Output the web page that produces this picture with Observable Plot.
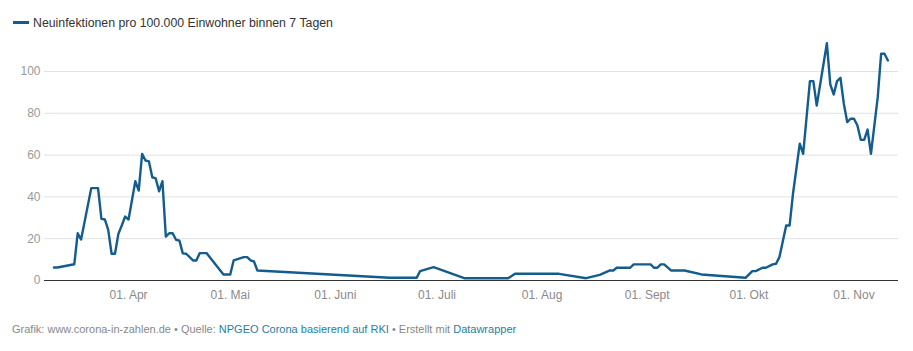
<!DOCTYPE html>
<html>
<head>
<meta charset="utf-8">
<script src="https://cdn.jsdelivr.net/npm/d3@7"></script>
<script src="https://cdn.jsdelivr.net/npm/@observablehq/plot@0.6"></script>
<style>
  html, body { margin: 0; padding: 0; background: #fff; }
  body { width: 913px; height: 351px; overflow: hidden; font-family: "Liberation Sans", Arial, sans-serif; }
  #legend { height: 34px; box-sizing: border-box; padding-top: 11px; padding-left: 13px; font-size: 12.3px; line-height: 16px; color: #333; display: flex; align-items: center; align-self: flex-start; }
  #legend .sw { display: inline-block; width: 16px; height: 3px; background: #135c8e; margin-right: 4px; }
  #chart svg { display: block; }
  #caption { padding-left: 12px; padding-top: 13px; font-size: 11px; line-height: 14px; color: #888; }
  #caption a { color: #1d81a2; text-decoration: none; }
</style>
</head>
<body>
<div id="legend"><span class="sw"></span><span>Neuinfektionen pro 100.000 Einwohner binnen 7 Tagen</span></div>
<div id="chart"></div>
<div id="caption">Grafik: www.corona-in-zahlen.de • Quelle: <a>NPGEO Corona basierend auf RKI</a> • Erstellt mit <a>Datawrapper</a></div>
<script>
const dates = [
  "2020-03-10","2020-03-11","2020-03-16","2020-03-17","2020-03-18","2020-03-21","2020-03-23","2020-03-24",
  "2020-03-25","2020-03-26","2020-03-27","2020-03-28","2020-03-29","2020-03-30","2020-03-31","2020-04-01",
  "2020-04-03","2020-04-04","2020-04-05","2020-04-06","2020-04-07","2020-04-08","2020-04-09","2020-04-10",
  "2020-04-11","2020-04-12","2020-04-13","2020-04-14","2020-04-15","2020-04-16","2020-04-17","2020-04-18",
  "2020-04-20","2020-04-21","2020-04-22","2020-04-24","2020-04-29","2020-05-01","2020-05-02","2020-05-05",
  "2020-05-06","2020-05-07","2020-05-08","2020-05-09","2020-06-17","2020-06-25","2020-06-26","2020-06-30",
  "2020-07-09","2020-07-22","2020-07-24","2020-08-06","2020-08-14","2020-08-18","2020-08-21","2020-08-22",
  "2020-08-23","2020-08-27","2020-08-28","2020-09-02","2020-09-03","2020-09-04","2020-09-05","2020-09-06",
  "2020-09-08","2020-09-12","2020-09-17","2020-09-30","2020-10-02","2020-10-03","2020-10-05","2020-10-06",
  "2020-10-08","2020-10-09","2020-10-10","2020-10-12","2020-10-13","2020-10-14","2020-10-16","2020-10-17",
  "2020-10-19","2020-10-20","2020-10-21","2020-10-24","2020-10-25","2020-10-26","2020-10-27","2020-10-28",
  "2020-10-29","2020-10-30","2020-10-31","2020-11-01","2020-11-02","2020-11-03","2020-11-04","2020-11-05",
  "2020-11-06","2020-11-08","2020-11-09","2020-11-10","2020-11-11"
];
const values = [
  6.2, 6.2, 7.8, 22.6, 19.6, 44.2, 44.2, 29.5,
  29.2, 24.2, 12.8, 12.8, 22.3, 26.3, 30.6, 29.2,
  47.5, 43.0, 60.6, 57.4, 57.0, 49.4, 48.9, 42.7,
  47.5, 21.0, 22.6, 22.6, 19.5, 19.1, 13.0, 12.8,
  9.6, 9.6, 13.1, 13.1, 2.9, 2.9, 9.6, 11.2,
  11.2, 9.6, 9.1, 4.8, 1.3, 1.3, 4.5, 6.4,
  1.1, 1.1, 3.2, 3.2, 1.1, 2.7, 4.8, 4.8,
  6.1, 6.1, 7.7, 7.7, 6.1, 6.1, 7.7, 7.7,
  4.8, 4.8, 2.9, 1.3, 4.5, 4.5, 6.1, 6.1,
  7.7, 8.0, 11.2, 26.3, 26.3, 41.5, 65.5, 60.6,
  95.4, 95.4, 83.7, 113.5, 93.8, 89.0, 95.4, 97.0,
  84.5, 75.8, 77.4, 77.4, 74.2, 67.3, 67.3, 72.2,
  60.6, 87.7, 108.5, 108.5, 105.3
];
const yTicks = [0, 20, 40, 60, 80, 100];
const gridTicks = [20, 40, 60, 80, 100];
const xTickDates = ["2020-04-01","2020-05-01","2020-06-01","2020-07-01","2020-08-01","2020-09-01","2020-10-01","2020-11-01"];
const monthNames = ["Jan","Feb","März","Apr","Mai","Juni","Juli","Aug","Sept","Okt","Nov","Dez"];
const xDomain = ["2020-03-07T05:00:00Z", "2020-11-14T03:00:00Z"];

const data = dates.map((d, i) => ({date: new Date(d), value: values[i]}));
const lineColor = "#135c8e";

const chart = Plot.plot({
  width: 913,
  height: 275,
  marginLeft: 44,
  marginRight: 15,
  marginTop: 37,
  marginBottom: 29,
  style: {fontFamily: "'Liberation Sans', Arial, sans-serif", fontSize: "12px", background: "#fff"},
  x: {type: "utc", domain: xDomain.map(d => new Date(d))},
  y: {domain: [0, 100]},
  marks: [
    Plot.ruleY(gridTicks, {stroke: "#e2e2e2", strokeWidth: 1}),
    Plot.ruleY([0], {stroke: "#333", strokeWidth: 1}),
    Plot.axisY(yTicks, {tickSize: 0, tickPadding: 4, label: null, fill: "#9a9a9a", fontSize: 12}),
    Plot.axisX(xTickDates.map(d => new Date(d)), {
      tickSize: 0, tickPadding: 10, label: null, fill: "#8a8a8a", fontSize: 12,
      tickFormat: d => "01. " + monthNames[d.getUTCMonth()]
    }),
    Plot.line(data, {x: "date", y: "value", stroke: lineColor, strokeWidth: 2.4, strokeLinejoin: "round"})
  ]
});
document.getElementById("chart").appendChild(chart);
</script>
</body>
</html>
